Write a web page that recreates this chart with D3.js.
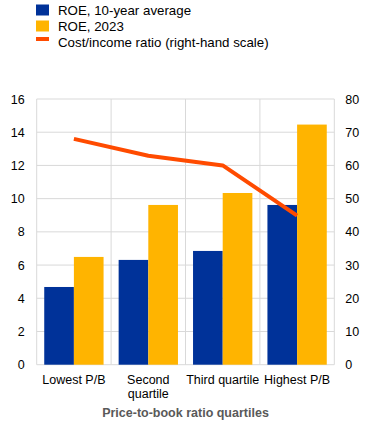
<!DOCTYPE html>
<html><head><meta charset="utf-8">
<script src="https://cdn.jsdelivr.net/npm/d3@7"></script>
<style>body{margin:0;background:#fff}svg{display:block;font-family:"Liberation Sans",Arial,sans-serif}</style>
</head><body><svg id="c" width="372" height="423"></svg>
<script>
const categories = [["Lowest P/B"], ["Second", "quartile"], ["Third quartile"], ["Highest P/B"]];
const roe10y = [4.68, 6.31, 6.85, 9.62];
const roe2023 = [6.49, 9.62, 10.34, 14.46];
const costIncome = [68.0, 62.9, 60.0, 44.9];
const leftTicks = [0, 2, 4, 6, 8, 10, 12, 14, 16];
const rightTicks = [0, 10, 20, 30, 40, 50, 60, 70, 80];
const seriesNames = ["ROE, 10-year average", "ROE, 2023", "Cost/income ratio (right-hand scale)"];
const colors = {blue: "#003299", orange: "#FFB400", line: "#FF4B00", grid: "#D9D9D9", text: "#000", title: "#595959"};

const svg = d3.select("#c");
const L = 36.7, R = 334.3, T = 99, B = 364.7;
const idx = categories.map((d, i) => i);
const x = d3.scaleBand().domain(idx).range([L, R]).paddingInner(0).paddingOuter(0);
const y = d3.scaleLinear().domain([0, 16]).range([B, T]);
const y2 = d3.scaleLinear().domain([0, 80]).range([B, T]);
const inner = d3.scaleBand().domain([0, 1]).range([0, x.bandwidth()]).paddingOuter(0.254).paddingInner(0);

// grid
svg.append("g").selectAll("line").data(leftTicks).join("line")
  .attr("x1", L).attr("x2", R).attr("y1", d => y(d)).attr("y2", d => y(d))
  .attr("stroke", colors.grid).attr("stroke-width", 1);
svg.append("g").selectAll("line").data(d3.range(categories.length + 1)).join("line")
  .attr("x1", d => L + d * x.bandwidth()).attr("x2", d => L + d * x.bandwidth())
  .attr("y1", T).attr("y2", B).attr("stroke", colors.grid).attr("stroke-width", 1);

// bars
const g = svg.append("g");
g.selectAll(".b1").data(roe10y).join("rect")
  .attr("x", (d, i) => x(i) + inner(0)).attr("width", inner.bandwidth())
  .attr("y", d => y(d)).attr("height", d => B - y(d)).attr("fill", colors.blue);
g.selectAll(".b2").data(roe2023).join("rect")
  .attr("x", (d, i) => x(i) + inner(1)).attr("width", inner.bandwidth())
  .attr("y", d => y(d)).attr("height", d => B - y(d)).attr("fill", colors.orange);

// line
const line = d3.line().x((d, i) => x(i) + x.bandwidth() / 2).y(d => y2(d));
svg.append("path").datum(costIncome).attr("d", line).attr("fill", "none")
  .attr("stroke", colors.line).attr("stroke-width", 4).attr("stroke-linejoin", "round");

// axes
const fs = 12.5;
const la = svg.append("g").attr("transform", `translate(${L},0)`)
  .call(d3.axisLeft(y).tickValues(leftTicks).tickSize(0).tickPadding(12));
la.select(".domain").remove();
la.selectAll("text").attr("font-size", fs).attr("font-family", "Liberation Sans, Arial, sans-serif").attr("fill", colors.text);
const ra = svg.append("g").attr("transform", `translate(${R},0)`)
  .call(d3.axisRight(y2).tickValues(rightTicks).tickSize(0).tickPadding(11));
ra.select(".domain").remove();
ra.selectAll("text").attr("font-size", fs).attr("font-family", "Liberation Sans, Arial, sans-serif").attr("fill", colors.text);

// category labels
categories.forEach((lines, i) => {
  const t = svg.append("text").attr("x", x(i) + x.bandwidth() / 2).attr("y", 384)
    .attr("text-anchor", "middle").attr("font-size", fs).attr("fill", colors.text);
  lines.forEach((s, j) => t.append("tspan").attr("x", x(i) + x.bandwidth() / 2).attr("dy", j ? 13.5 : 0).text(s));
});
svg.append("text").attr("x", 185.5).attr("y", 417).attr("text-anchor", "middle")
  .attr("font-size", fs).attr("font-weight", "bold").attr("fill", colors.title).text("Price-to-book ratio quartiles");

// legend
const lg = svg.append("g");
const ly = [10, 26, 42];
lg.append("rect").attr("x", 36).attr("y", ly[0] - 5.5).attr("width", 13).attr("height", 11).attr("fill", colors.blue);
lg.append("rect").attr("x", 36).attr("y", ly[1] - 5.5).attr("width", 13).attr("height", 11).attr("fill", colors.orange);
lg.append("rect").attr("x", 36).attr("y", ly[2] - 5).attr("width", 13).attr("height", 4).attr("fill", colors.line);
seriesNames.forEach((s, i) => lg.append("text").attr("x", 58).attr("y", ly[i] + 4.8)
  .attr("font-size", 13.3).attr("fill", colors.text).text(s));
</script></body></html>
